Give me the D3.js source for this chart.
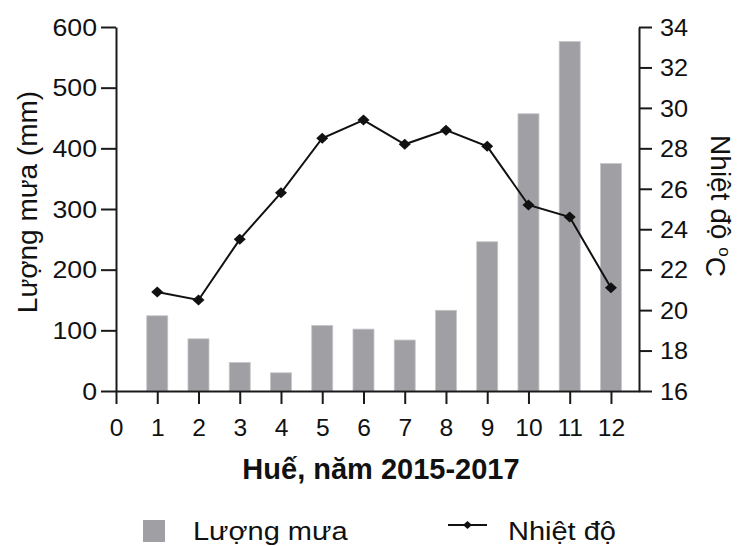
<!DOCTYPE html>
<html><head><meta charset="utf-8">
<script src="https://cdn.jsdelivr.net/npm/d3@7"></script>
<style>body{margin:0;background:#fff}svg{display:block}text{font-family:"Liberation Sans",Arial,sans-serif;fill:#111}</style>
</head><body><svg id="c" width="741" height="546"></svg>
<script>
const months = [1,2,3,4,5,6,7,8,9,10,11,12];
const rain = [124, 86, 47, 30, 108, 102, 84, 133, 246, 457, 576, 375];
const temp = [20.9, 20.5, 23.5, 25.8, 28.5, 29.4, 28.2, 28.9, 28.1, 25.2, 24.6, 21.1];
const xTicks = [0,1,2,3,4,5,6,7,8,9,10,11,12];
const rainTicks = [0,100,200,300,400,500,600];
const tempTicks = [16,18,20,22,24,26,28,30,32,34];
const rainLabel = "Lượng mưa (mm)";
const tempLabel = "Nhiệt độ ";
const xTitle = "Huế, năm 2015-2017";
const legendRain = "Lượng mưa";
const legendTemp = "Nhiệt độ";

const svg = d3.select("#c");
const x = d3.scaleLinear().domain([0, 12.68]).range([116, 639]);
const yL = d3.scaleLinear().domain([0, 600]).range([391, 27]);
const yR = d3.scaleLinear().domain([16, 34]).range([391, 27]);
const barColor = "#a09fa4";
const bw = 21;

// bars
svg.append("g").selectAll("rect").data(months).join("rect")
  .attr("x", (d) => x(d) - bw/2).attr("width", bw)
  .attr("y", (d,i) => yL(rain[i])).attr("height", (d,i) => yL(0) - yL(rain[i]))
  .attr("fill", barColor).attr("stroke", "#c6c5c9").attr("stroke-width", 0.8);

function styleAxis(g){
  g.selectAll("path.domain").attr("stroke", "#1a1a1a").attr("stroke-width", 2);
  g.selectAll(".tick line").attr("stroke", "#1a1a1a").attr("stroke-width", 2);
  g.selectAll("text").style("font-size", "23px").attr("fill", "#111");
}
// left axis
const gl = svg.append("g").attr("transform", "translate(116,0)")
  .call(d3.axisLeft(yL).tickValues(rainTicks).tickSize(15).tickSizeOuter(0).tickPadding(0));
styleAxis(gl);
gl.selectAll(".tick text").attr("x", 0).attr("dy", "0.36em").attr("transform", "translate(-19,0) scale(1.16,1)");
// right axis
const gr = svg.append("g").attr("transform", "translate(639,0)")
  .call(d3.axisRight(yR).tickValues(tempTicks).tickSize(13).tickSizeOuter(0).tickPadding(0));
styleAxis(gr);
gr.selectAll(".tick text").attr("x", 0).attr("dy", "0.36em").attr("transform", "translate(21,0) scale(1.1,1)");
// bottom axis
const gb = svg.append("g").attr("transform", "translate(0,391)")
  .call(d3.axisBottom(x).tickValues(xTicks).tickSize(13).tickSizeOuter(0).tickPadding(0).tickFormat(d3.format("d")));
styleAxis(gb);
gb.selectAll(".tick text").attr("y", 0).attr("dy", 0).attr("transform", "translate(0,44.5) scale(1.07,1)");

// line
const line = d3.line().x((d,i) => x(months[i])).y((d) => yR(d));
svg.append("path").datum(temp).attr("d", line).attr("fill", "none").attr("stroke", "#111").attr("stroke-width", 2);
const diamond = "M0,-5.5L6,0L0,5.5L-6,0Z";
svg.append("g").selectAll("path").data(temp).join("path")
  .attr("d", diamond).attr("transform", (d,i) => `translate(${x(months[i])},${yR(d)})`).attr("fill", "#111");

// titles
svg.append("text").attr("transform", "translate(37,202) rotate(-90)").attr("text-anchor", "middle")
  .style("font-size", "28px").text(rainLabel);
const rt = svg.append("text").attr("transform", "translate(711,206) rotate(90)").attr("text-anchor", "middle")
  .style("font-size", "28px");
rt.append("tspan").text(tempLabel);
rt.append("tspan").attr("dy", "-0.45em").style("font-size", "17px").text("o");
rt.append("tspan").attr("dy", "0.45em").text("C");

svg.append("text").attr("x", 381).attr("y", 479).attr("text-anchor", "middle")
  .style("font-size", "29px").style("font-weight", "bold").text(xTitle);

// legend
svg.append("rect").attr("x", 143).attr("y", 520).attr("width", 22).attr("height", 22).attr("fill", barColor);
svg.append("text").attr("transform", "translate(193,540) scale(1.16,1)").style("font-size", "25px").text(legendRain);
svg.append("line").attr("x1", 448).attr("x2", 487).attr("y1", 525).attr("y2", 525).attr("stroke", "#111").attr("stroke-width", 2);
svg.append("path").attr("d", "M0,-4L4.5,0L0,4L-4.5,0Z").attr("transform", "translate(467.5,525)").attr("fill", "#111");
svg.append("text").attr("transform", "translate(508,540) scale(1.16,1)").style("font-size", "25px").text(legendTemp);
</script></body></html>
